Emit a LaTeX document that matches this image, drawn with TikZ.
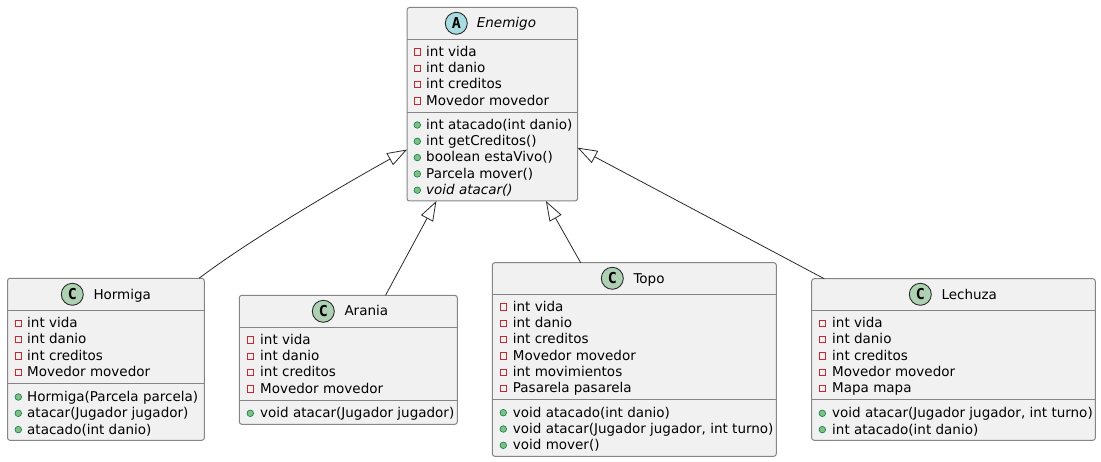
\documentclass[tikz,border=0pt]{standalone}
\usepackage{fontspec}
\setmainfont{DejaVu Sans}
\newfontfamily\spotfont{DejaVu Sans Mono}
\usetikzlibrary{arrows.meta, positioning}
\definecolor{boxgray}{HTML}{F1F1F1}
\definecolor{linegray}{HTML}{2A2A2A}
\definecolor{bordergray}{HTML}{858585}
\definecolor{spotgreen}{HTML}{ADD1B2}
\definecolor{spotblue}{HTML}{A9DCDF}
\definecolor{privred}{HTML}{C82930}
\definecolor{pubgreen}{HTML}{84BE84}
\definecolor{publine}{HTML}{038048}

\tikzset{
    classbox/.style={draw=bordergray, fill=boxgray, line width=1pt, rounded corners=2.5pt, inner sep=0pt, outer sep=0pt},
    sepline/.style={draw=bordergray, line width=1pt},
    rowtext/.style={anchor=base west, inner sep=0pt, font=\fontsize{13.5}{16}\selectfont},
    titletext/.style={rowtext},
    fieldmark/.style={draw=privred, line width=0.9pt, minimum size=6.4pt, inner sep=0pt},
    methodmark/.style={circle, draw=publine, fill=pubgreen, line width=0.6pt, minimum size=6.6pt, inner sep=0pt},
    spot/.style={circle, draw=linegray, line width=0.9pt, minimum size=22pt, inner sep=0pt, font=\spotfont\bfseries\fontsize{15}{15}\selectfont},
    inherits/.style={draw=linegray, line width=0.8pt, -{Triangle[open, length=19.8pt, width=13.6pt, fill=white]}}
}

% prefix, mark style, mark x, text x, first baseline, rows
\newcommand{\memberrows}[6]{
    \foreach \txt [count=\i] in {#6} {
        \node[#2] (#1m\i) at (#3,{#5-4+16.3*(\i-1)}) {};
        \node[rowtext] (#1\i) at (#4,{#5+0.4+16.3*(\i-1)}) {\txt};
    }
}

\begin{document}
\begin{tikzpicture}[x=1pt, y=-1pt]
    \useasboundingbox (0,0) rectangle (1101,462);

    % class boxes
    \node[classbox, minimum width=170.5pt, minimum height=193.5pt] (enemigo) at (492.25,104.25) {};
    \node[classbox, minimum width=196.8pt, minimum height=162pt] (hormiga) at (105.9,359.3) {};
    \node[classbox, minimum width=218pt, minimum height=129pt] (arania) at (348.3,359.8) {};
    \node[classbox, minimum width=284pt, minimum height=193.6pt] (topo) at (634.3,359.5) {};
    \node[classbox, minimum width=283.6pt, minimum height=161.6pt] (lechuza) at (953.5,359.5) {};

    \draw[sepline] (enemigo.west |- 0,39.3) -- (enemigo.east |- 0,39.3);
    \draw[sepline] (enemigo.west |- 0,112.5) -- (enemigo.east |- 0,112.5);
    \draw[sepline] (hormiga.west |- 0,310.7) -- (hormiga.east |- 0,310.7);
    \draw[sepline] (hormiga.west |- 0,383.3) -- (hormiga.east |- 0,383.3);
    \draw[sepline] (arania.west |- 0,327.3) -- (arania.east |- 0,327.3);
    \draw[sepline] (arania.west |- 0,400.3) -- (arania.east |- 0,400.3);
    \draw[sepline] (topo.west |- 0,294.3) -- (topo.east |- 0,294.3);
    \draw[sepline] (topo.west |- 0,399.3) -- (topo.east |- 0,399.3);
    \draw[sepline] (lechuza.west |- 0,310.7) -- (lechuza.east |- 0,310.7);
    \draw[sepline] (lechuza.west |- 0,399.3) -- (lechuza.east |- 0,399.3);

    % titles
    \node[spot, fill=spotblue] (enemigospot) at (456.3,23.3) {A};
    \node[titletext] (enemigotitle) at (476.7,28) {\itshape Enemigo};
    \node[spot, fill=spotgreen] (hormigaspot) at (72.3,294.3) {C};
    \node[titletext] (hormigatitle) at (93.3,299.3) {Hormiga};
    \node[spot, fill=spotgreen] (araniaspot) at (323.3,311.3) {C};
    \node[titletext] (araniatitle) at (344.3,316) {Arania};
    \node[spot, fill=spotgreen] (topospot) at (612.3,278.3) {C};
    \node[titletext] (topotitle) at (633.3,283.3) {Topo};
    \node[spot, fill=spotgreen] (lechuzaspot) at (920.3,294.3) {C};
    \node[titletext] (lechuzatitle) at (941.3,299.3) {Lechuza};

    % members
    \memberrows{enemigof}{fieldmark}{417.3}{426}{56}{int vida, int danio, int creditos, Movedor movedor}
    \memberrows{enemigom}{methodmark}{417.3}{426}{129}{int atacado(int danio), int getCreditos(), boolean estaVivo(), Parcela mover(), \textit{void atacar()}}
    \memberrows{hormigaf}{fieldmark}{18.3}{27}{327.3}{int vida, int danio, int creditos, Movedor movedor}
    \memberrows{hormigam}{methodmark}{18.3}{27}{401}{Hormiga(Parcela parcela), atacar(Jugador jugador), atacado(int danio)}
    \memberrows{araniaf}{fieldmark}{250.3}{260}{344}{int vida, int danio, int creditos, Movedor movedor}
    \memberrows{araniam}{methodmark}{250.3}{260}{417.3}{void atacar(Jugador jugador)}
    \memberrows{topof}{fieldmark}{503.3}{512.7}{311}{int vida, int danio, int creditos, Movedor movedor, int movimientos, Pasarela pasarela}
    \memberrows{topom}{methodmark}{503.3}{512.7}{416.7}{void atacado(int danio), {void atacar(Jugador jugador, int turno)}, void mover()}
    \memberrows{lechuzaf}{fieldmark}{822.3}{832}{327.3}{int vida, int danio, int creditos, Movedor movedor, Mapa mapa}
    \memberrows{lechuzam}{methodmark}{822.3}{832}{417.3}{{void atacar(Jugador jugador, int turno)}, int atacado(int danio)}

    % inheritance
    \draw[inherits] (hormiga.41) .. controls (240,247) and (320,198) .. (enemigo.208.6);
    \draw[inherits] (arania.60.8) -- (enemigo.240.1);
    \draw[inherits] (topo.119.6) -- (enemigo.299.4);
    \draw[inherits] (lechuza.148.4) -- (enemigo.333.2);
\end{tikzpicture}
\end{document}
